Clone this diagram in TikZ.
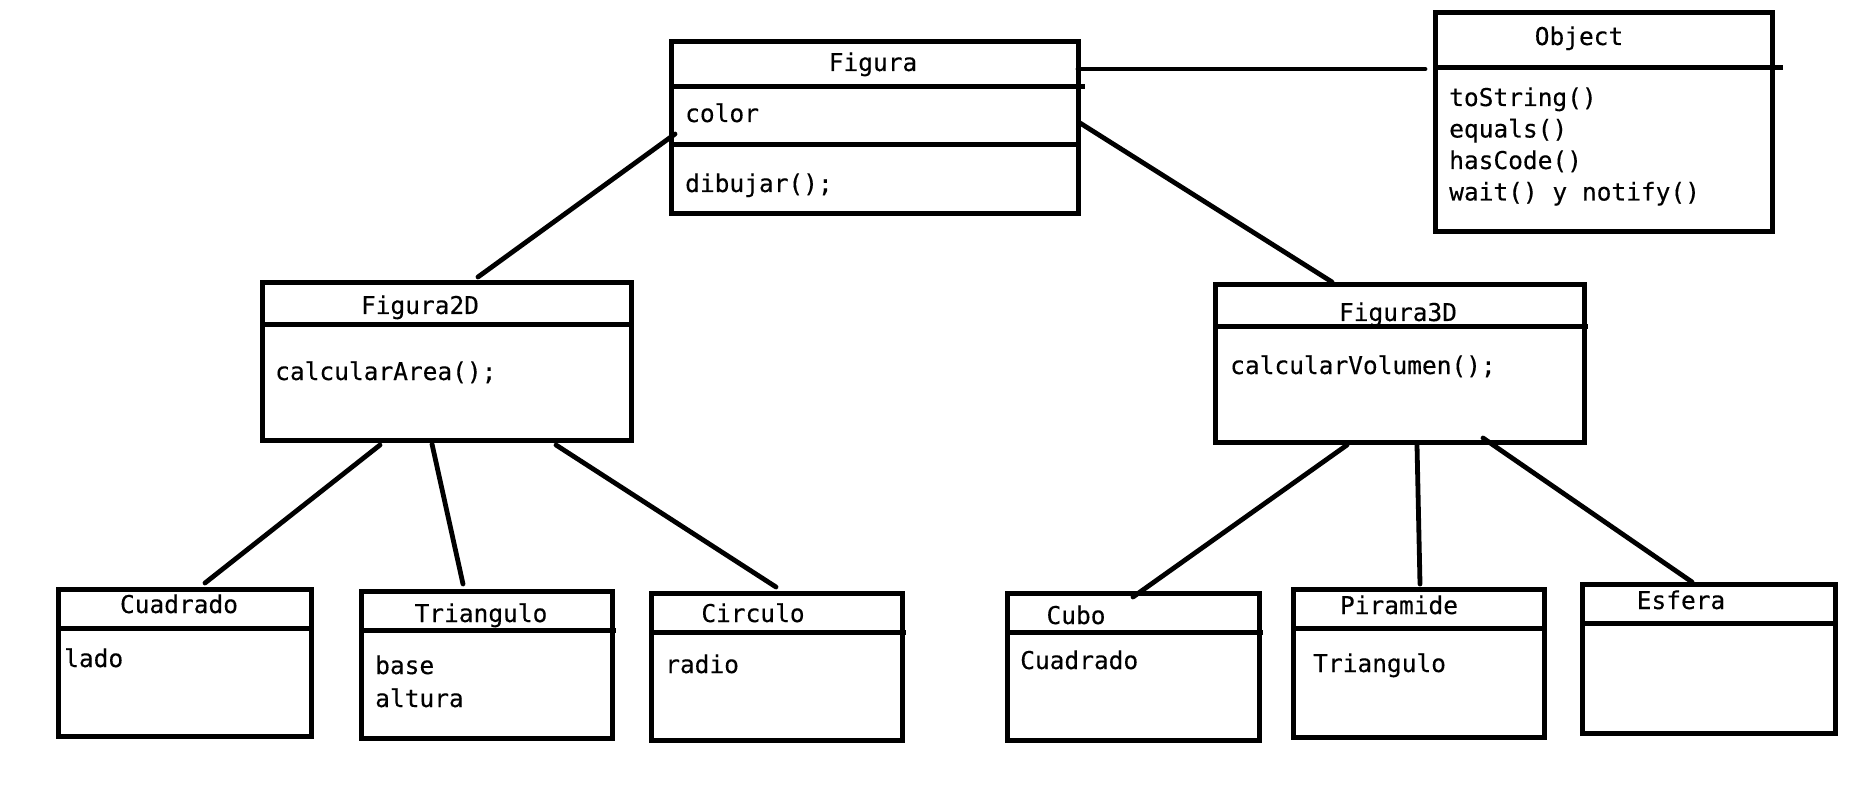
\documentclass[tikz,border=0pt]{standalone}
\usepackage{fontspec}
\newfontfamily\codefont{DejaVu Sans Mono}[FakeBold=0.3]

% A UML class box: name, left x, top y, width, height, divider depth, divider overhang
\newcommand\umlclass[7]{%
  \node[classbox, minimum width=#4pt, minimum height=#5pt] (#1) at (#2,-#3) {};
  \draw[divider] ([yshift=-#6pt]#1.north west) -- ([xshift=#7pt,yshift=-#6pt]#1.north east);
}

\begin{document}
\begin{tikzpicture}[x=1pt,y=1pt,
  classbox/.style={draw, line width=5pt, inner sep=0pt, outer sep=0pt, anchor=north west},
  divider/.style={line width=5pt},
  link/.style={line width=4.8pt, line cap=round},
  title/.style={font=\codefont\fontsize{24.5}{30}\selectfont, inner sep=0pt, anchor=base},
  entry/.style={font=\codefont\fontsize{24.5}{30}\selectfont, inner sep=0pt, anchor=base west},
]
\path[fill=white, use as bounding box] (0,0) rectangle (1853,-802);

% class boxes
\umlclass{fig}{671}{42}{407}{172}{45}{7}
\draw[divider] ([yshift=-103pt]fig.north west) -- ([yshift=-103pt]fig.north east);
\umlclass{obj}{1435}{13}{337}{219}{55}{11}
\umlclass{f2d}{262}{283}{369}{157}{42}{0}
\umlclass{f3d}{1215}{285}{369}{157}{42}{4}
\umlclass{cuad}{58}{589}{253}{147}{39}{3}
\umlclass{tri}{361}{591}{251}{147}{39}{4}
\umlclass{circ}{651}{593}{251}{147}{39}{4}
\umlclass{cubo}{1007}{593}{252}{147}{39}{4}
\umlclass{pir}{1293}{589}{251}{148}{39}{3}
\umlclass{esf}{1582}{584}{253}{149}{39}{2}

% class names
\node[title] (fig-t)  at (873,-71)  {Figura};
\node[title] (obj-t)  at (1579,-45) {Object};
\node[title] (f2d-t)  at (420,-314) {Figura2D};
\node[title] (f3d-t)  at (1398,-321) {Figura3D};
\node[title] (cuad-t) at (179,-613) {Cuadrado};
\node[title] (tri-t)  at (481,-622) {Triangulo};
\node[title] (circ-t) at (753,-622) {Circulo};
\node[title] (cubo-t) at (1076,-624) {Cubo};
\node[title] (pir-t)  at (1399,-614) {Piramide};
\node[title] (esf-t)  at (1681,-609) {Esfera};

% attributes and methods
\node[entry] (fig-a)  at (685,-122)  {color};
\node[entry] (fig-m)  at (685,-192)  {dibujar();};
\node[entry] (obj-m1) at (1449,-106) {toString()};
\node[entry] (obj-m2) at (1449,-137.5) {equals()};
\node[entry] (obj-m3) at (1449,-169) {hasCode()};
\node[entry] (obj-m4) at (1449,-200.5) {wait() y notify()};
\node[entry] (f2d-m)  at (275,-380)  {calcularArea();};
\node[entry] (f3d-m)  at (1230,-374) {calcularVolumen();};
\node[entry] (cuad-a) at (64,-667)   {lado};
\node[entry] (tri-a1) at (375,-674)  {base};
\node[entry] (tri-a2) at (375,-707)  {altura};
\node[entry] (circ-a) at (665,-673)  {radio};
\node[entry] (cubo-a) at (1020,-669) {Cuadrado};
\node[entry] (pir-a)  at (1313,-672) {Triangulo};

% connectors
\draw[link] ([shift={(0,-27)}]fig.north east) -- ([shift={(-10,-56)}]obj.north west);
\draw[link] ([shift={(4,-92)}]fig.north west) -- ([shift={(216,6)}]f2d.north west);
\draw[link] ([shift={(2,-81)}]fig.north east) -- ([shift={(117,3)}]f3d.north west);
\draw[link] ([shift={(118,-5)}]f2d.south west) -- ([shift={(147,6)}]cuad.north west);
\draw[link] ([shift={(170,-4)}]f2d.south west) -- ([shift={(102,7)}]tri.north west);
\draw[link] ([shift={(294,-5)}]f2d.south west) -- ([shift={(125,6)}]circ.north west);
\draw[link] ([shift={(132,-3)}]f3d.south west) -- ([shift={(126,-4)}]cubo.north west);
\draw[link] ([shift={(202,-3)}]f3d.south west) -- ([shift={(127,5)}]pir.north west);
\draw[link] ([shift={(268,4)}]f3d.south west) -- ([shift={(110,2)}]esf.north west);
\end{tikzpicture}
\end{document}
